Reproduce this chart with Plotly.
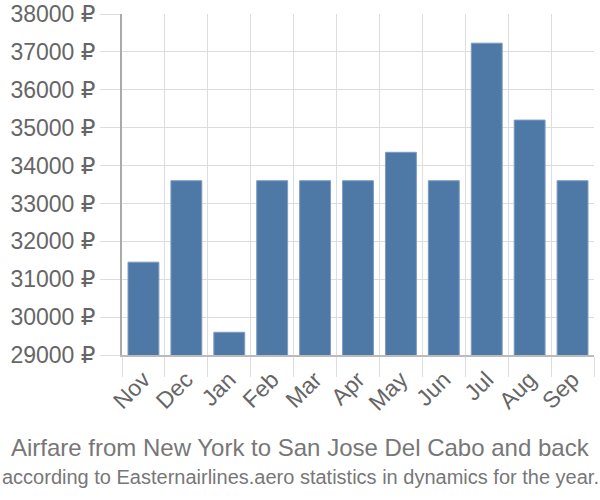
import plotly.graph_objects as go

months = ["Nov", "Dec", "Jan", "Feb", "Mar", "Apr", "May", "Jun", "Jul", "Aug", "Sep"]
prices = [31450, 33600, 29600, 33600, 33600, 33600, 34350, 33600, 37230, 35200, 33600]
y_ticks = [29000, 30000, 31000, 32000, 33000, 34000, 35000, 36000, 37000, 38000]
y_labels = [f"{v} ₽" for v in y_ticks]
title = "Airfare from New York to San Jose Del Cabo and back"
subtitle = "according to Easternairlines.aero statistics in dynamics for the year."

font = "Liberation Sans, Arial, DejaVu Sans, sans-serif"

W, H = 600, 500
L, R, T, B = 122, 6, 14, 145

fig = go.Figure(go.Bar(
    x=months, y=prices,
    marker=dict(color="#4e79a7", line=dict(color="#7d9cc0", width=1)),
    width=0.72,
))

fig.update_layout(
    width=W, height=H,
    margin=dict(l=L, r=R, t=T, b=B, autoexpand=False),
    plot_bgcolor="white", paper_bgcolor="white",
    font=dict(family=font, color="#666666"),
    showlegend=False,
    xaxis=dict(
        tickson="boundaries", ticks="outside", ticklen=20, tickcolor="#dddddd",
        showgrid=True, gridcolor="#dddddd", gridwidth=1,
        tickangle=-45, tickfont=dict(size=23, color="#666666"),
        showline=True, linecolor="#bbbbbb", linewidth=2,
        automargin=False,
    ),
    yaxis=dict(
        range=[29000, 38000], tickvals=y_ticks, ticktext=y_labels,
        ticks="outside", ticklen=20, tickcolor="#dddddd",
        showgrid=True, gridcolor="#dddddd", gridwidth=1,
        tickfont=dict(size=23, color="#666666"),
        showline=True, linecolor="#aaaaaa", linewidth=2,
        zeroline=False, automargin=False,
    ),
)

pw = W - L - R
ph = H - T - B
def px(x):
    return (x - L) / pw
def py(y):
    return (H - B - y) / ph

fig.add_annotation(text=title, x=px(300), y=py(447), xref="paper", yref="paper",
                   showarrow=False, yanchor="middle", xanchor="center",
                   font=dict(size=24, color="#777777"))
fig.add_annotation(text=subtitle, x=px(300), y=py(477), xref="paper", yref="paper",
                   showarrow=False, yanchor="middle", xanchor="center",
                   font=dict(size=20, color="#777777"))

fig.write_html("out.html", config={"displayModeBar": False},
               post_script="document.body.style.margin='0';document.body.style.padding='0';")
